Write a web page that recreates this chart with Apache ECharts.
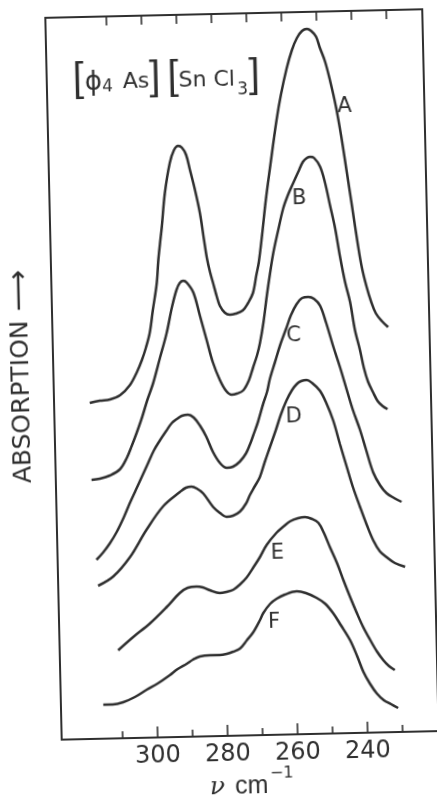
<!DOCTYPE html>
<html>
<head>
<meta charset="utf-8">
<script src="https://cdn.jsdelivr.net/npm/echarts@6/dist/echarts.min.js"></script>
<style>
html,body{margin:0;padding:0;background:#ffffff;overflow:hidden;}
#chart{width:437px;height:797px;transform:rotate(-1.3deg);transform-origin:218.5px 398.5px;}
</style>
</head>
<body>
<div id="chart"></div>
<script>
// wavenumber (cm-1) ticks and labels
const allTicks = [310, 300, 290, 280, 270, 260, 250, 240, 230];
const majorTicks = [300, 280, 260, 240];
const minorTicks = [310, 290, 270, 250, 230];
const tickLabels = [300, 280, 260, 240];

// spectra: [wavenumber, absorption (arbitrary, offset)]
const curveA = [[317.2,33.6],[314.3,33.8],[311.4,33.9],[308.5,34.3],[305.6,35.3],[303.5,36.6],[302.0,37.8],[300.8,39.0],[299.6,40.5],[298.6,42.7],[297.3,45.4],[296.7,47.7],[296.1,49.4],[295.5,51.0],[294.4,54.4],[292.8,57.4],[291.5,58.7],[290.3,59.1],[289.2,58.9],[288.1,58.2],[287.1,56.7],[285.8,54.7],[284.5,52.3],[283.5,49.6],[282.8,47.8],[282.0,46.4],[281.2,45.3],[280.2,43.9],[279.4,43.0],[278.0,42.3],[276.6,42.1],[274.9,42.2],[272.9,42.5],[271.4,43.2],[269.9,44.2],[268.8,46.0],[268.0,47.3],[266.9,50.0],[265.6,53.5],[264.2,56.7],[262.0,61.5],[260.6,64.0],[258.8,66.6],[257.2,68.4],[255.7,69.6],[254.2,70.3],[252.8,70.5],[251.6,70.3],[250.2,69.7],[249.2,68.6],[247.8,67.2],[246.5,65.3],[245.0,62.7],[243.7,59.8],[242.3,56.1],[241.0,52.6],[239.6,48.8],[238.6,46.5],[237.4,44.6],[236.2,43.1],[234.9,41.9],[233.2,41.1],[231.5,40.5]];
const curveB = [[317.2,25.9],[314.8,26.0],[311.9,26.3],[309.0,26.9],[307.0,28.0],[305.5,29.2],[304.0,30.5],[302.4,32.0],[300.7,33.8],[299.0,35.4],[296.9,37.9],[294.8,40.4],[293.1,43.0],[291.7,44.7],[290.7,45.4],[289.7,45.6],[288.7,45.4],[286.9,44.4],[285.2,42.1],[283.4,39.6],[281.8,37.4],[279.9,35.6],[278.2,34.5],[276.6,34.1],[275.1,34.2],[273.3,34.5],[271.6,35.5],[270.3,36.8],[269.1,38.0],[268.2,39.2],[267.1,41.2],[265.9,44.0],[264.9,46.1],[263.8,48.2],[262.3,50.4],[260.7,52.6],[259.3,53.9],[257.7,55.1],[256.2,56.2],[254.8,57.2],[253.6,57.6],[252.7,57.7],[251.6,57.6],[249.9,56.7],[248.6,55.1],[247.3,52.8],[246.0,50.5],[244.8,47.7],[243.5,45.1],[242.2,43.1],[241.0,40.3],[239.7,38.3],[238.7,36.5],[237.6,35.1],[236.2,34.0],[234.9,33.1],[233.5,32.6],[232.2,32.3]];
const curveC = [[316.3,17.9],[314.4,18.6],[312.4,19.5],[310.4,20.6],[308.2,22.1],[306.4,23.5],[304.6,24.8],[302.8,26.1],[301.0,27.4],[299.2,28.7],[297.4,29.7],[295.6,30.6],[293.9,31.4],[292.4,31.8],[291.0,32.1],[289.2,32.2],[287.6,31.9],[285.9,31.1],[284.2,30.0],[282.3,28.4],[280.4,27.3],[278.5,26.8],[276.7,26.9],[274.7,27.4],[272.9,28.2],[271.7,29.1],[270.7,30.0],[269.3,31.3],[267.7,33.1],[266.5,34.3],[265.6,35.6],[264.0,37.3],[262.5,38.9],[260.5,40.7],[259.2,41.9],[257.5,43.0],[255.9,43.6],[254.1,43.7],[252.5,43.5],[250.8,42.8],[249.2,41.1],[247.3,38.7],[245.5,36.6],[243.7,34.3],[242.1,32.3],[240.2,30.3],[238.6,28.3],[236.7,26.0],[234.8,24.7],[233.0,23.9],[230.9,23.4],[228.8,23.0]];
const curveD = [[316.0,15.3],[311.6,16.2],[306.7,18.1],[301.8,20.8],[296.9,23.1],[292.0,24.5],[290.3,24.9],[288.7,25.0],[287.2,24.8],[285.4,24.3],[282.6,22.9],[280.7,22.3],[278.9,21.9],[277.0,22.0],[275.0,22.4],[273.2,23.2],[272.1,24.0],[270.6,24.9],[269.1,25.8],[267.6,27.3],[266.0,28.8],[264.2,30.5],[262.7,32.0],[261.0,33.4],[259.4,34.4],[258.0,35.0],[256.7,35.3],[255.1,35.4],[253.6,35.1],[251.4,34.3],[249.7,33.1],[247.8,31.3],[246.0,28.9],[244.2,26.6],[242.6,24.6],[240.7,22.6],[238.9,20.8],[237.1,19.2],[235.3,18.1],[233.4,17.5],[231.1,16.9],[228.2,16.5]];
const curveE = [[310.7,8.8],[306.3,10.1],[301.5,11.4],[296.6,13.0],[292.7,14.4],[290.4,14.9],[287.9,15.0],[286.1,14.9],[284.1,14.6],[281.3,14.3],[279.3,14.4],[277.4,14.6],[275.5,15.1],[273.5,15.8],[271.7,16.7],[269.6,17.8],[267.6,19.0],[264.7,20.2],[262.7,20.8],[260.8,21.3],[258.5,21.6],[256.5,21.7],[254.5,21.5],[252.7,21.1],[251.2,20.1],[249.5,18.6],[247.6,17.0],[245.9,15.3],[244.1,13.6],[242.3,12.0],[240.6,10.6],[238.7,9.3],[236.8,8.1],[235.0,7.2],[233.4,6.6],[231.8,6.2]];
const curveF = [[315.3,3.4],[312.6,3.4],[309.6,3.6],[306.2,4.1],[302.8,4.8],[299.6,5.4],[296.1,6.2],[293.8,6.8],[291.2,7.3],[289.4,7.7],[287.4,8.0],[284.5,8.1],[281.7,8.1],[279.7,8.2],[277.9,8.4],[275.9,8.7],[273.9,9.5],[272.0,10.3],[270.0,11.5],[269.0,12.2],[267.0,13.1],[265.1,13.6],[262.7,14.0],[259.3,14.3],[256.7,14.1],[253.7,13.6],[251.3,13.0],[249.0,12.0],[246.9,10.8],[244.4,9.3],[242.5,7.7],[240.8,6.1],[239.0,4.9],[237.1,3.9],[235.1,3.2],[233.1,2.8],[231.1,2.4]];

const curveNames = ['A', 'B', 'C', 'D', 'E', 'F'];
const curveLabelAt = [[242.5,62.6],[256.1,53.5],[258.5,39.8],[259.0,31.7],[264.6,18.1],[266.0,11.2]];

const curves = [curveA, curveB, curveC, curveD, curveE, curveF];
const ink = '#2f2f2f';
const xRange = { min: 219.7, max: 327.4 };

const chart = echarts.init(document.getElementById('chart'), null, { renderer: 'canvas' });

const xBase = (extra) => Object.assign({
  type: 'value', min: xRange.min, max: xRange.max, inverse: true,
  splitLine: { show: false }, axisLine: { show: false }
}, extra);

const series = curves.map((c, i) => ({
  name: curveNames[i],
  type: 'line',
  data: c,
  smooth: 0.35,
  showSymbol: false,
  symbol: 'none',
  lineStyle: { color: ink, width: 2.5 },
  silent: true,
  z: 3
}));

series.push({
  type: 'scatter',
  symbolSize: 0,
  silent: true,
  itemStyle: { opacity: 1, color: ink },
  data: curveNames.map((n, i) => ({ name: n, value: curveLabelAt[i] })),
  label: {
    show: true, position: 'inside', formatter: (p) => p.name, opacity: 1,
    fontFamily: 'DejaVu Sans', fontSize: 21, color: ink, textBorderWidth: 0
  },
  z: 4
});

const option = {
  backgroundColor: '#ffffff',
  animation: false,
  grid: { left: 54, top: 14, width: 377, height: 722, show: true, borderColor: ink, borderWidth: 2, backgroundColor: 'transparent' },
  xAxis: [
    xBase({
      position: 'bottom',
      axisTick: { show: true, inside: true, length: 11, customValues: majorTicks, lineStyle: { color: ink, width: 1.6 } },
      axisLabel: { show: true, customValues: tickLabels, margin: 7, fontSize: 24, fontFamily: 'DejaVu Sans', color: ink }
    }),
    xBase({
      position: 'bottom',
      axisTick: { show: true, inside: true, length: 7, customValues: minorTicks, lineStyle: { color: ink, width: 1.6 } },
      axisLabel: { show: false }
    }),
    xBase({
      position: 'top',
      axisTick: { show: true, inside: true, length: 9, customValues: allTicks, lineStyle: { color: ink, width: 1.6 } },
      axisLabel: { show: false }
    })
  ],
  yAxis: { type: 'value', min: 0, max: 72.2, show: false },
  series: series,
  graphic: [
    {
      type: 'text', left: 80, top: 55, silent: true,
      style: {
        text: '{b|[}{f|ϕ}{s|4}{t| As}{b|]}{t| }{b|[}{t|Sn Cl}{u|3}{b|]}',
        fill: ink,
        rich: {
          b: { fontFamily: 'Liberation Sans', fontSize: 40, lineHeight: 40, padding: [0, 0, 6, 0], fill: ink },
          f: { fontFamily: 'DejaVu Sans', fontSize: 26, lineHeight: 26, padding: [11, 0, 9, 1], fill: ink },
          t: { fontFamily: 'DejaVu Sans', fontSize: 22, lineHeight: 20, padding: [14, 0, 12, 0], fill: ink },
          s: { fontFamily: 'DejaVu Sans', fontSize: 17, lineHeight: 16, padding: [20, 3, 10, 0], fill: ink },
          u: { fontFamily: 'DejaVu Sans', fontSize: 17, lineHeight: 14, padding: [27, 1, 5, 2], fill: ink }
        }
      }
    },
    {
      type: 'text', x: 22.5, y: 372, rotation: Math.PI / 2, silent: true,
      style: {
        text: '{a|ABSORPTION}{r| ⟶}', align: 'center', verticalAlign: 'middle', fill: ink,
        rich: {
          a: { fontFamily: 'DejaVu Sans', fontSize: 25, lineHeight: 30, fill: ink },
          r: { fontFamily: 'DejaVu Sans', fontSize: 29, lineHeight: 30, fill: ink }
        }
      }
    },
    {
      type: 'text', x: 243, y: 787, silent: true,
      style: {
        text: '{n|ν}{c|cm}{p|−1}', align: 'center', verticalAlign: 'middle', fill: ink,
        rich: {
          n: { fontFamily: 'DejaVu Serif', fontStyle: 'italic', fontSize: 25, lineHeight: 40, padding: [0, 10, 0, 0], fill: ink },
          c: { fontFamily: 'Liberation Sans', fontSize: 25, lineHeight: 40, fill: ink },
          p: { fontFamily: 'DejaVu Sans', fontSize: 16, lineHeight: 16, padding: [0, 0, 24, 2], fill: ink }
        }
      }
    }
  ]
};

chart.setOption(option);
</script>
</body>
</html>
